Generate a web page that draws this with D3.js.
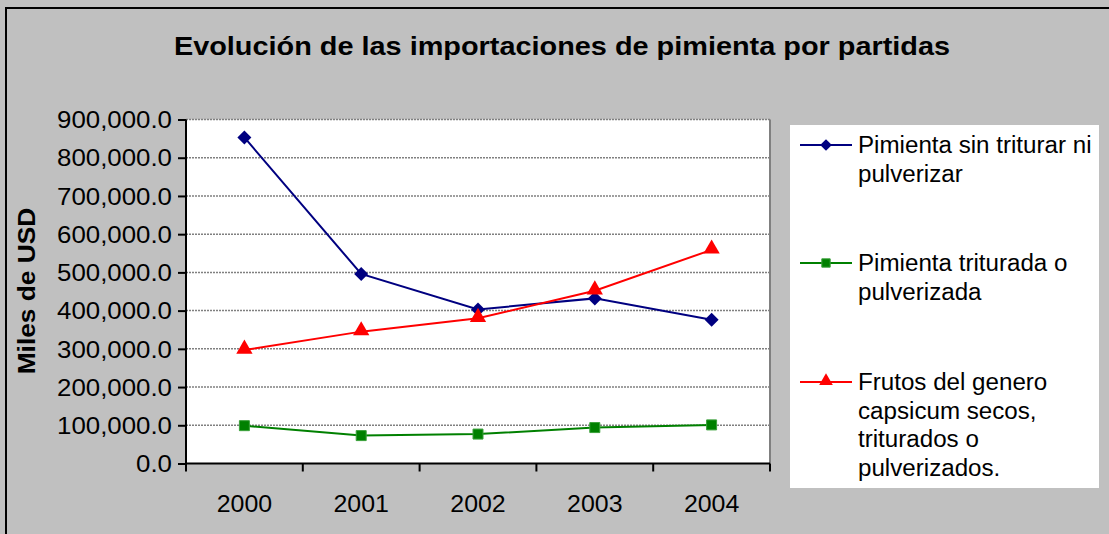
<!DOCTYPE html>
<html>
<head>
<meta charset="utf-8">
<script src="https://cdn.jsdelivr.net/npm/d3@7"></script>
<style>
  body { margin: 0; background: #c0c0c0; }
  svg text { font-family: "Liberation Sans", Arial, sans-serif; fill: #000; }
</style>
</head>
<body>
<div id="chart"></div>
<script>
// data (miles de USD)
var years = ["2000", "2001", "2002", "2003", "2004"];
var sinTriturar = [853000, 496000, 403000, 432000, 376000];
var triturada = [99000, 73000, 77000, 94000, 101000];
var capsicum = [297000, 345000, 380000, 452000, 559000];
var yTicks = [0, 100000, 200000, 300000, 400000, 500000, 600000, 700000, 800000, 900000];

var seriesNames = [
  ["Pimienta sin triturar ni", "pulverizar"],
  ["Pimienta triturada o", "pulverizada"],
  ["Frutos del genero", "capsicum secos,", "triturados o", "pulverizados."]
];
var seriesColors = ["#000080", "#008000", "#ff0000"];
var seriesValues = [sinTriturar, triturada, capsicum];

var svgWidth = 1109;
var svgHeight = 534;

var plot = { left: 186, top: 119.5, right: 770, bottom: 463.5 };

// the original text is a bit wider than Arial, stretch it horizontally
function widen(sel, k) {
  sel.each(function() {
    var w = this.getComputedTextLength();
    d3.select(this)
      .attr("textLength", w * k)
      .attr("lengthAdjust", "spacingAndGlyphs");
  });
}

// marker drawing: diamond = rotated square
function marker(g, s, scale) {
  if (s === 0) {
    g.append("path")
      .attr("d", d3.symbol().type(d3.symbolSquare).size(98 * scale))
      .attr("transform", "rotate(45)")
      .attr("fill", seriesColors[s]);
  } else if (s === 1) {
    g.append("path")
      .attr("d", d3.symbol().type(d3.symbolSquare).size(100 * scale))
      .attr("fill", seriesColors[s])
      .attr("stroke", "#3aa03a")
      .attr("stroke-width", 1);
  } else {
    g.append("path")
      .attr("d", d3.symbol().type(d3.symbolTriangle).size(115 * scale))
      .attr("transform", "translate(0,-1)")
      .attr("fill", seriesColors[s]);
  }
}

var svg = d3.select("#chart")
  .append("svg")
  .attr("width", svgWidth)
  .attr("height", svgHeight);

svg.append("rect")
  .attr("x", 0).attr("y", 0)
  .attr("width", svgWidth).attr("height", svgHeight)
  .attr("fill", "#c0c0c0");

svg.append("path")
  .attr("d", `M6,${svgHeight} V8 H${svgWidth}`)
  .attr("fill", "none")
  .attr("stroke", "#000")
  .attr("stroke-width", 2);

// title
svg.append("text")
  .attr("x", 562)
  .attr("y", 55)
  .attr("text-anchor", "middle")
  .attr("font-size", "26px")
  .attr("font-weight", "bold")
  .text("Evolución de las importaciones de pimienta por partidas")
  .call(widen, 1.11);

// scales
var xScale = d3.scaleBand()
  .domain(years)
  .range([plot.left, plot.right]);

var yScale = d3.scaleLinear()
  .domain([0, 900000])
  .range([plot.bottom, plot.top]);

svg.append("rect")
  .attr("x", plot.left)
  .attr("y", plot.top)
  .attr("width", plot.right - plot.left)
  .attr("height", plot.bottom - plot.top)
  .attr("fill", "#fff");

// gridlines
svg.append("g")
  .selectAll("line")
  .data(yTicks.slice(1))
  .enter()
  .append("line")
  .attr("x1", plot.left)
  .attr("x2", plot.right)
  .attr("y1", d => yScale(d))
  .attr("y2", d => yScale(d))
  .attr("stroke", "#808080")
  .attr("stroke-width", 1.5)
  .attr("stroke-dasharray", "2,1");

svg.append("line")
  .attr("x1", plot.right).attr("x2", plot.right)
  .attr("y1", plot.top).attr("y2", plot.bottom)
  .attr("stroke", "#808080")
  .attr("stroke-width", 2);

// y axis
var leftAxis = d3.axisLeft(yScale)
  .tickValues(yTicks)
  .tickFormat(d3.format(",.1f"))
  .tickSize(8)
  .tickPadding(6);

var yAxis = svg.append("g")
  .attr("transform", `translate(${plot.left}, 0)`)
  .call(leftAxis);

yAxis.select(".domain").attr("stroke", "#000").attr("stroke-width", 2).attr("d", `M0,${plot.top}V${plot.bottom}`);
yAxis.selectAll(".tick line").attr("stroke", "#000").attr("stroke-width", 2);
yAxis.selectAll("text")
  .attr("font-size", "23.5px")
  .attr("font-family", "Liberation Sans, Arial, sans-serif")
  .attr("dy", "0.35em")
  .call(widen, 1.1);

// x axis (ticks at the band edges)
var xAxisG = svg.append("g");
xAxisG.append("line")
  .attr("x1", plot.left).attr("x2", plot.right)
  .attr("y1", plot.bottom).attr("y2", plot.bottom)
  .attr("stroke", "#000").attr("stroke-width", 2);

var edges = years.map(d => xScale(d)).concat([plot.right]);
xAxisG.selectAll(".edge")
  .data(edges)
  .enter()
  .append("line")
  .attr("class", "edge")
  .attr("x1", d => d).attr("x2", d => d)
  .attr("y1", plot.bottom).attr("y2", plot.bottom + 8)
  .attr("stroke", "#000").attr("stroke-width", 2);

xAxisG.selectAll(".xlabel")
  .data(years)
  .enter()
  .append("text")
  .attr("class", "xlabel")
  .attr("x", d => xScale(d) + xScale.bandwidth() / 2)
  .attr("y", 512)
  .attr("text-anchor", "middle")
  .attr("font-size", "23.5px")
  .text(d => d)
  .call(widen, 1.06);

// y axis title
svg.append("text")
  .attr("transform", "translate(35, 291) rotate(-90)")
  .attr("text-anchor", "middle")
  .attr("font-size", "23.5px")
  .attr("font-weight", "bold")
  .text("Miles de USD")
  .call(widen, 1.12);

// lines + markers
var line = d3.line()
  .x((d, i) => xScale(years[i]) + xScale.bandwidth() / 2)
  .y(d => yScale(d));

seriesValues.forEach(function(vals, s) {
  svg.append("path")
    .datum(vals)
    .attr("d", line)
    .attr("fill", "none")
    .attr("stroke", seriesColors[s])
    .attr("stroke-width", 2);

  svg.append("g")
    .selectAll("g")
    .data(vals)
    .enter()
    .append("g")
    .attr("transform", (d, i) => `translate(${xScale(years[i]) + xScale.bandwidth() / 2}, ${yScale(d)})`)
    .each(function() { marker(d3.select(this), s, 1); });
});

// legend
var legend = svg.append("g");
legend.append("rect")
  .attr("x", 790).attr("y", 125)
  .attr("width", 309).attr("height", 363)
  .attr("fill", "#fff");

var rowY = [145, 263, 382];
var lineH = 28.5;

seriesNames.forEach(function(lines, s) {
  var g = legend.append("g").attr("transform", `translate(0, ${rowY[s]})`);
  g.append("line")
    .attr("x1", 800).attr("x2", 852)
    .attr("y1", 0).attr("y2", 0)
    .attr("stroke", seriesColors[s])
    .attr("stroke-width", 2);
  marker(g.append("g").attr("transform", "translate(826, 0)"), s, 0.7);
  g.selectAll("text")
    .data(lines)
    .enter()
    .append("text")
    .attr("x", 858)
    .attr("y", (d, i) => i * lineH)
    .attr("dy", "0.35em")
    .attr("font-size", "23px")
    .text(d => d)
    .call(widen, 1.05);
});
</script>
</body>
</html>
